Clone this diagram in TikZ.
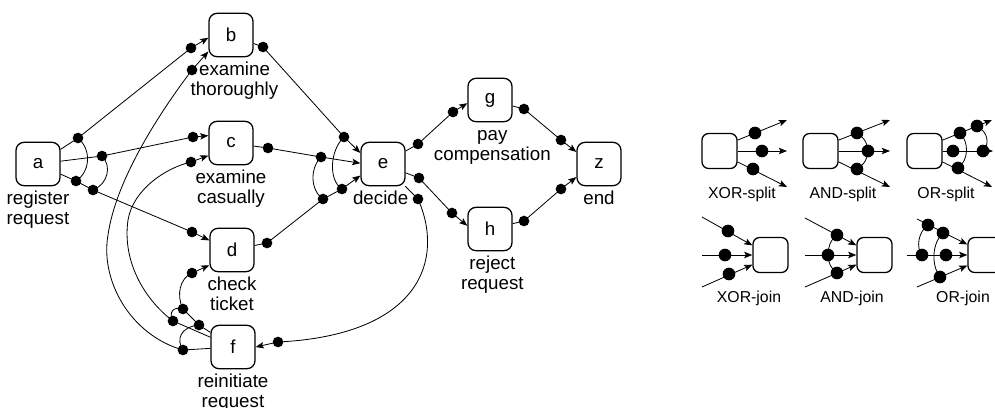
\documentclass[tikz,border=0pt]{standalone}
\usepackage{fontspec}
\setmainfont{Liberation Sans}
\usetikzlibrary{arrows.meta}
\begin{document}
\begin{tikzpicture}[x=0.03cm,y=-0.03cm,
  act/.style={draw, rounded corners=0.24cm, minimum width=1.32cm, minimum height=1.3cm, line width=1.1pt, inner sep=0pt, font=\fontsize{16}{17}\selectfont},
  leg/.style={draw, rounded corners=0.2cm, minimum width=1.05cm, minimum height=1.05cm, line width=1.1pt, inner sep=0pt},
  lbl/.style={anchor=north, align=center, inner sep=0pt, font=\fontsize{16}{17}\selectfont},
  legl/.style={anchor=base, inner sep=0pt, font=\fontsize{13.5}{15}\selectfont},
  con/.style={line width=0.7pt},
  arr/.style={con, -{Stealth[length=7pt,width=5.5pt,inset=1.5pt]}},
  bind/.style={line width=0.7pt},
  dotr/.style={radius=0.16cm},
  ldotr/.style={radius=0.19cm}]
\useasboundingbox (0,0) rectangle (995,407);

% activities
\node[act] (a) at (38,164) {a};
\node[act] (b) at (231,35) {b};
\node[act] (c) at (231,143) {c};
\node[act] (d) at (232,250) {d};
\node[act] (e) at (383,164) {e};
\node[act] (f) at (233,347) {f};
\node[act] (g) at (490,100) {g};
\node[act] (h) at (490,229) {h};
\node[act] (z) at (599,164) {z};

% labels
\node[lbl] (la) at ([yshift=-3.4pt]a.south) {\strut register\\request};
\node[lbl] (lb) at ([yshift=-3.4pt,xshift=3pt]b.south) {\strut examine\\thoroughly};
\node[lbl] (lc) at ([yshift=-3.4pt]c.south) {\strut examine\\casually};
\node[lbl] (ld) at ([yshift=-3.4pt]d.south) {\strut check\\ticket};
\node[lbl] (le) at ([yshift=-3.4pt,xshift=-2pt]e.south) {\strut decide};
\node[lbl] (lf) at ([yshift=-3.4pt]f.south) {\strut reinitiate\\request};
\node[lbl] (lg) at ([yshift=-3.4pt,xshift=2pt]g.south) {\strut pay\\compensation};
\node[lbl] (lh) at ([yshift=-3.4pt,xshift=2pt]h.south) {\strut reject\\request};
\node[lbl] (lz) at ([yshift=-3.4pt]z.south) {\strut end};

% binding points
\coordinate (ab) at (78,138);
\coordinate (ac) at (102,156);
\coordinate (ad1) at (76,181);
\coordinate (ad2) at (93,190);
\coordinate (ba) at (191,48);
\coordinate (bf) at (192,70);
\coordinate (ca) at (193,137);
\coordinate (cf) at (191,162);
\coordinate (da) at (192,232);
\coordinate (df) at (192,273);
\coordinate (be) at (263,47);
\coordinate (ce) at (268,148);
\coordinate (de) at (267,243);
\coordinate (eb) at (344,137);
\coordinate (ec) at (321,157);
\coordinate (ed1) at (323,199);
\coordinate (ed2) at (342,189);
\coordinate (eg) at (418,144);
\coordinate (eh) at (419,178);
\coordinate (ef) at (418,199);
\coordinate (ge) at (453,112);
\coordinate (he) at (452,213);
\coordinate (gz) at (524,109);
\coordinate (hz) at (524,221);
\coordinate (zg) at (561,140);
\coordinate (zh) at (561,189);
\coordinate (fe) at (278,342);
\coordinate (fd1) at (199,325);
\coordinate (fd2) at (183,309);
\coordinate (fc) at (173,321);
\coordinate (fb) at (183,350);

% arcs
\draw[arr] (a) -- (ab) -- (ba) -- (b.187);
\draw[arr] (a) -- (ac) -- (ca) -- (c.162);
\draw[arr] (a) -- (ad1) -- (ad2) -- (da) -- (d.157);
\draw[arr] (b) -- (be) -- (eb) -- (e.154);
\draw[arr] (c) -- (ce) -- (ec) -- (e.178);
\draw[arr] (d) -- (de) -- (ed1) -- (ed2) -- (e.207);
\draw[arr] (e) -- (eg) -- (ge) -- (g.188);
\draw[arr] (e) -- (eh) -- (he) -- (h.172);
\draw[arr] (e) -- (ef) .. controls (445,260) and (420,335) .. (fe) -- (f.0);
\draw[arr] (g) -- (gz) -- (zg) -- (z.152);
\draw[arr] (h) -- (hz) -- (zh) -- (z.210);
\draw[arr] (f) -- (fd1) -- (fd2) .. controls (176,295) and (180,278) .. (df) -- (d.214);
\draw[arr] (f) -- (fc) .. controls (145,300) and (122,262) .. (128,220) .. controls (133,190) and (165,168) .. (cf) -- (c.209);
\draw[arr] (f) -- (fb) .. controls (130,335) and (100,280) .. (108,235) .. controls (116,178) and (163,108) .. (bf) -- (b.216);

% binding curves
\draw[bind] (ab) .. controls (92,150) and (90,172) .. (ad1);
\draw[bind] (ac) .. controls (112,166) and (108,184) .. (ad2);
\draw[bind] (eb) .. controls (330,150) and (328,180) .. (ed2);
\draw[bind] (ec) .. controls (310,168) and (310,190) .. (ed1);
\draw[bind] (fb) .. controls (176,340) and (180,327) .. (fd1);
\draw[bind] (fc) .. controls (168,312) and (174,306) .. (fd2);

\foreach \p in {ab,ac,ad1,ad2,ba,bf,ca,cf,da,df,be,ce,de,eb,ec,ed1,ed2,eg,eh,ef,ge,he,gz,hz,zg,zh,fe,fd1,fd2,fc,fb}
  \fill (\p) circle[dotr];

% ---------- legend ----------
\node[leg] (xs) at (719.5,151) {};
\node[leg] (as) at (820.5,151) {};
\node[leg] (os) at (924.5,151) {};
\node[leg] (xj) at (770.5,255) {};
\node[leg] (aj) at (874.5,255) {};
\node[leg] (oj) at (985.5,255) {};

\node[legl] (lxs) at (742,198) {XOR-split};
\node[legl] (las) at (843,198) {AND-split};
\node[legl] (los) at (946,198) {OR-split};
\node[legl] (lxj) at (749,302) {XOR-join};
\node[legl] (laj) at (852,302) {AND-join};
\node[legl] (loj) at (963,302) {OR-join};

% XOR-split
\coordinate (xs1) at (787,120);
\coordinate (xs2) at (787,151);
\coordinate (xs3) at (787,187);
\coordinate (xsd1) at (755,133);
\coordinate (xsd2) at (762,151);
\coordinate (xsd3) at (753,169);
\draw[arr] (xs.31) -- (xs1);
\draw[arr] (xs.0) -- (xs2);
\draw[arr] (xs.-31) -- (xs3);

% AND-split
\coordinate (as1) at (890,120);
\coordinate (as2) at (890,151);
\coordinate (as3) at (890,187);
\coordinate (asd1) at (857,133);
\coordinate (asd2) at (868,151);
\coordinate (asd3) at (857,169);
\draw[arr] (as.31) -- (as1);
\draw[arr] (as.0) -- (as2);
\draw[arr] (as.-31) -- (as3);
\draw[bind] (asd1) .. controls (865,138) and (868,145) .. (asd2) .. controls (868,158) and (864,165) .. (asd3);

% OR-split
\coordinate (os1) at (992,120);
\coordinate (os2) at (993,151);
\coordinate (os3) at (992,187);
\coordinate (osd1) at (960,133);
\coordinate (osd2) at (977,126);
\coordinate (osd3) at (953,151);
\coordinate (osd4) at (983,151);
\coordinate (osd5) at (958,168);
\draw[arr] (os.31) -- (os1);
\draw[arr] (os.0) -- (os2);
\draw[arr] (os.-31) -- (os3);
\draw[bind] (osd2) .. controls (988,132) and (990,144) .. (osd4);
\draw[bind] (osd1) .. controls (969,142) and (969,160) .. (osd5);

% XOR-join
\coordinate (xj1) at (702,217);
\coordinate (xj2) at (702,255);
\coordinate (xj3) at (702,287);
\coordinate (xjd1) at (728,231);
\coordinate (xjd2) at (725,255);
\coordinate (xjd3) at (729,274);
\draw[arr] (xj1) -- (xj.152);
\draw[arr] (xj2) -- (xj.180);
\draw[arr] (xj3) -- (xj.208);

% AND-join
\coordinate (aj1) at (805,218);
\coordinate (aj2) at (805,255);
\coordinate (aj3) at (805,287);
\coordinate (ajd1) at (837,235);
\coordinate (ajd2) at (828,255);
\coordinate (ajd3) at (837,273);
\draw[arr] (aj1) -- (aj.152);
\draw[arr] (aj2) -- (aj.180);
\draw[arr] (aj3) -- (aj.208);
\draw[bind] (ajd1) .. controls (830,240) and (828,248) .. (ajd2) .. controls (828,262) and (831,269) .. (ajd3);

% OR-join
\coordinate (oj1) at (917,219);
\coordinate (oj2) at (907,255);
\coordinate (oj3) at (917,287);
\coordinate (ojd1) at (928,225);
\coordinate (ojd2) at (943,233);
\coordinate (ojd3) at (922,255);
\coordinate (ojd4) at (946,255);
\coordinate (ojd5) at (940,277);
\draw[arr] (oj1) -- (oj.150);
\draw[arr] (oj2) -- (oj.180);
\draw[arr] (oj3) -- (oj.210);
\draw[bind] (ojd1) .. controls (918,232) and (916,248) .. (ojd3);
\draw[bind] (ojd2) .. controls (932,243) and (931,265) .. (ojd5);

\foreach \p in {xsd1,xsd2,xsd3,asd1,asd2,asd3,osd1,osd2,osd3,osd4,osd5,xjd1,xjd2,xjd3,ajd1,ajd2,ajd3,ojd1,ojd2,ojd3,ojd4,ojd5}
  \fill (\p) circle[ldotr];
\end{tikzpicture}
\end{document}
